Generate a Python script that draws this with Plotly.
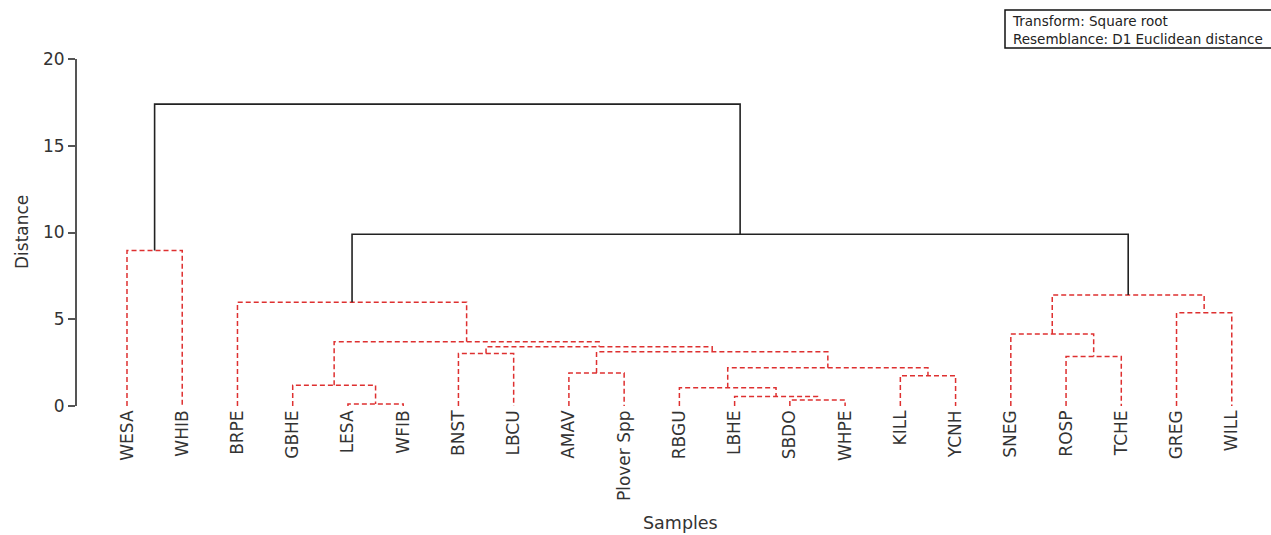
import plotly.graph_objects as go

# ---- data ----
leaves = ["WESA", "WHIB", "BRPE", "GBHE", "LESA", "WFIB", "BNST", "LBCU", "AMAV",
          "Plover Spp", "RBGU", "LBHE", "SBDO", "WHPE", "KILL", "YCNH", "SNEG",
          "ROSP", "TCHE", "GREG", "WILL"]

# merges: node ids 0..20 are leaves, new nodes numbered from 21 in order
merge_left = [4, 12, 11, 10, 3, 14, 8, 24, 17, 6, 27, 30, 25, 16, 19, 2, 34, 0, 36, 38]
merge_right = [5, 13, 22, 23, 21, 15, 9, 26, 18, 7, 28, 31, 32, 29, 20, 33, 35, 1, 37, 39]
merge_height = [0.12, 0.35, 0.55, 1.05, 1.2, 1.75, 1.9, 2.2, 2.85, 3.03, 3.12, 3.41,
                3.70, 4.15, 5.37, 5.98, 6.4, 8.96, 9.9, 17.4]
merge_significant = [False] * 18 + [True, True]

y_ticks = [0, 5, 10, 15, 20]

# ---- build dendrogram geometry from linkage ----
n = len(leaves)
pos = {i: float(i) for i in range(n)}
hgt = {i: 0.0 for i in range(n)}
solid_x, solid_y, dash_x, dash_y = [], [], [], []
for k, (a, b, h, sig) in enumerate(zip(merge_left, merge_right, merge_height, merge_significant)):
    node = n + k
    xa, xb = pos[a], pos[b]
    xs = [xa, xa, xb, xb, None]
    ys = [hgt[a], h, h, hgt[b], None]
    if sig:
        solid_x += xs; solid_y += ys
    else:
        dash_x += xs; dash_y += ys
    pos[node] = (xa + xb) / 2
    hgt[node] = h

fig = go.Figure()
fig.add_trace(go.Scatter(x=dash_x, y=dash_y, mode="lines", hoverinfo="skip",
                         line=dict(color="rgb(222,48,48)", width=1.5, dash="5px,3px")))
fig.add_trace(go.Scatter(x=solid_x, y=solid_y, mode="lines", hoverinfo="skip",
                         line=dict(color="#222222", width=1.6)))

FONT = "DejaVu Sans, Verdana, sans-serif"
L, R, T, B = 77, 21, 59, 129
W, H = 1271, 535
pw, ph = W - L - R, H - T - B


def px(xp):
    return (xp - L) / pw


def py(yp):
    return (H - B - yp) / ph


fig.update_layout(
    width=W, height=H,
    margin=dict(l=L, r=R, t=T, b=B),
    paper_bgcolor="white", plot_bgcolor="white",
    showlegend=False,
    font=dict(family=FONT, color="#333333"),
    xaxis=dict(range=[-0.905, 20.33], tickmode="array",
               tickvals=list(range(n)), ticktext=leaves, tickangle=-90,
               showline=False, showgrid=False, zeroline=False, ticks="",
               tickfont=dict(size=17, family=FONT, color="#333333")),
    yaxis=dict(range=[0, 20], tickmode="array", tickvals=y_ticks,
               ticktext=[str(v) for v in y_ticks],
               showline=True, linecolor="#555555", linewidth=2,
               ticks="outside", ticklen=7, tickwidth=2, tickcolor="#555555",
               showgrid=False, zeroline=False,
               tickfont=dict(size=17, family=FONT, color="#333333")),
    shapes=[
        dict(type="rect", xref="paper", yref="paper",
             x0=px(1005), x1=px(1290), y0=py(48), y1=py(10),
             line=dict(color="#111111", width=1.5), fillcolor="white", layer="above"),
    ],
    annotations=[
        dict(text="Samples", xref="paper", yref="paper",
             x=px(680), y=py(523), xanchor="center", yanchor="middle",
             showarrow=False, font=dict(size=17.5, family=FONT, color="#333333")),
        dict(text="Distance", xref="paper", yref="paper", textangle=-90,
             x=px(22), y=py(232), xanchor="center", yanchor="middle",
             showarrow=False, font=dict(size=17, family=FONT, color="#333333")),
        dict(text="Transform: Square root<br>Resemblance: D1 Euclidean distance",
             xref="paper", yref="paper", x=px(1011), y=py(30),
             xanchor="left", yanchor="middle", align="left", showarrow=False,
             borderpad=0, font=dict(size=13.5, family=FONT, color="#222222")),
    ],
)

fig.write_html("out.html", config={"displayModeBar": False},
               post_script="document.body.style.margin='0px';")
